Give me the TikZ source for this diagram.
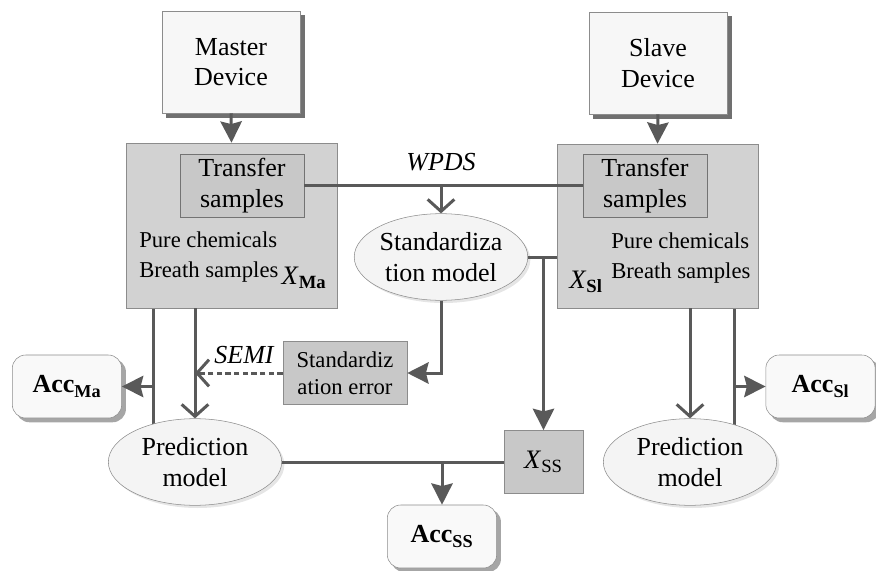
\documentclass[tikz,border=0pt]{standalone}
\usepackage{fontspec}
\setmainfont{Liberation Serif}
\usetikzlibrary{arrows.meta,shapes.geometric,backgrounds}

\definecolor{linegray}{RGB}{89,89,89}
\definecolor{edgegray}{RGB}{140,140,140}
\definecolor{panelgray}{RGB}{210,210,210}
\definecolor{darkgray}{RGB}{200,200,200}
\definecolor{shadowgray}{RGB}{112,112,112}

\tikzset{
  device/.style={draw=edgegray, fill=gray!6, inner sep=0pt,
    minimum width=103.5pt, minimum height=76.5pt, align=center,
    font=\fontsize{19.5}{23}\selectfont},
  panel/.style={draw=edgegray, fill=panelgray, inner sep=0pt},
  trbox/.style={draw=gray!90!black, fill=darkgray, inner sep=0pt,
    minimum width=93pt, minimum height=47.25pt, align=center,
    font=\fontsize{19.5}{23}\selectfont},
  model/.style={ellipse, draw=edgegray, fill=gray!9, inner sep=0pt,
    minimum width=130pt, minimum height=65pt, align=center,
    font=\fontsize{19.5}{23}\selectfont},
  errbox/.style={draw=edgegray, fill=darkgray, inner sep=0pt, align=center,
    minimum width=93pt, minimum height=47.5pt, font=\fontsize{17}{20}\selectfont},
  accbox/.style={draw=edgegray, rounded corners=10pt, fill=gray!5,
    inner sep=0pt, minimum width=82pt, minimum height=47.25pt,
    font=\fontsize{19.5}{23}\selectfont\bfseries},
  note/.style={align=left, inner sep=0pt, font=\fontsize{17}{22.5}\selectfont},
  lbl/.style={inner sep=0pt, font=\fontsize{19.5}{23}\selectfont\itshape},
  conn/.style={draw=linegray, line width=2.25pt},
  fillarrow/.style={conn, -{Stealth[length=16pt,width=16pt,inset=2pt]}},
  openarrow/.style={conn, -{Straight Barb[length=9pt,width=20pt]}}
}

\begin{document}
\begin{tikzpicture}[x=0.75pt,y=-0.75pt]
  \useasboundingbox (0,0) rectangle (876,571);

  % devices
  \node[device] (master) at (231,62) {Master\\Device};
  \node[device] (slave) at (658,63) {Slave\\Device};

  % sample sets
  \node[panel, minimum width=158.25pt, minimum height=123.75pt] (mabox) at (231.5,225.5) {};
  \node[panel, minimum width=150.75pt, minimum height=123pt] (slbox) at (657.5,226) {};
  \node[trbox] (matr) at (242,185.5) {Transfer\\samples};
  \node[trbox] (sltr) at (645,185.5) {Transfer\\samples};
  \node[note, anchor=west] (manote) at (139,257) {Pure chemicals\\Breath samples};
  \node[note, anchor=west] (slnote) at (611,258) {Pure chemicals\\Breath samples};
  \node[lbl, font=\fontsize{20}{23}\selectfont] (xma) at (304,278) {\textit{X}\textsubscript{\textbf{Ma}}};
  \node[lbl, font=\fontsize{20}{23}\selectfont] (xsl) at (586,282) {\textit{X}\textsubscript{\textbf{Sl}}};

  % models
  \node[model] (std) at (441,257) {Standardiza\\tion model};
  \node[errbox] (err) at (345,373) {Standardiz\\ation error};
  \node[model] (predma) at (195,462) {Prediction\\model};
  \node[model] (predsl) at (690,462) {Prediction\\model};
  \node[errbox, minimum width=59.25pt, font=\fontsize{20}{23}\selectfont] (xss) at (543.5,462) {\textit{X}\textsubscript{SS}};

  % accuracies
  \node[accbox] (accma) at (67,386.5) {Acc\textsubscript{Ma}};
  \node[accbox] (accsl) at (820.5,386.5) {Acc\textsubscript{Sl}};
  \node[accbox] (accss) at (442,536.5) {Acc\textsubscript{SS}};

  % shadows
  \begin{scope}[on background layer]
    \foreach \n in {master,slave}
      \fill[shadowgray] ([shift={(3.5pt,-3.5pt)}]\n.south west) rectangle ([shift={(3.5pt,-3.5pt)}]\n.north east);
    \foreach \n in {accma,accsl,accss}
      \fill[gray!70, rounded corners=10pt] ([shift={(3pt,-3pt)}]\n.south west) rectangle ([shift={(3pt,-3pt)}]\n.north east);
    \foreach \n in {std,predma,predsl}
      \fill[gray!20] ([shift={(2pt,-2pt)}]\n.center) ellipse [x radius=65pt, y radius=32.5pt];
  \end{scope}

  \coordinate (jma) at (153,386.5);
  \coordinate (jsl) at (734,386.5);

  \draw[fillarrow] (master.south) -- (mabox.north);
  \draw[fillarrow] (slave.south) -- (slbox.north);

  % WPDS
  \draw[conn] (matr.east) -- (sltr.west);
  \draw[openarrow] (std |- matr.east) -- (std.north);
  \node[lbl] (wpds) at (441,162) {WPDS};

  \draw[conn] (std.east) -- (std.east -| slbox.west);
  \draw[fillarrow] (xss |- std.east) -- (xss.north);
  \draw[fillarrow] (std.south) |- (err.east);

  % SEMI
  \draw[openarrow, dash pattern=on 4pt off 2.5pt] (err.west) -- (predma |- err.west);
  \node[lbl] (semi) at (244,355) {SEMI};

  \draw[openarrow] (predma |- mabox.south) -- (predma.north);
  \draw[openarrow] (predsl |- slbox.south) -- (predsl.north);
  \begin{scope}[on background layer]
    \draw[conn] (jma |- mabox.south) -- (jma |- predma.center);
    \draw[conn] (jsl |- slbox.south) -- (jsl |- predsl.center);
  \end{scope}
  \draw[fillarrow] (jma) -- (accma.east);
  \draw[fillarrow] (jsl) -- (accsl.west);

  \draw[conn] (predma.east) -- (xss.west);
  \draw[fillarrow] (accss |- predma.east) -- (accss.north);
\end{tikzpicture}
\end{document}
